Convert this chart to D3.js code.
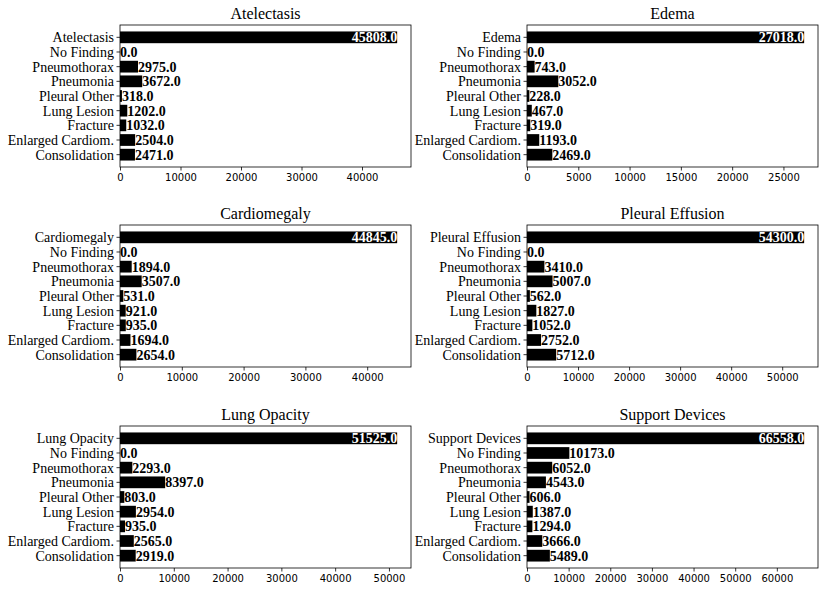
<!DOCTYPE html>
<html><head><meta charset="utf-8">
<script src="https://cdn.jsdelivr.net/npm/d3@7"></script>
<style>body{margin:0;background:#fff}</style>
</head><body>
<script>
const titles = ["Atelectasis","Edema","Cardiomegaly","Pleural Effusion","Lung Opacity","Support Devices"];
const otherCategories = ["No Finding","Pneumothorax","Pneumonia","Pleural Other","Lung Lesion","Fracture","Enlarged Cardiom.","Consolidation"];
const valuesAtelectasis = [45808,0,2975,3672,318,1202,1032,2504,2471];
const valuesEdema = [27018,0,743,3052,228,467,319,1193,2469];
const valuesCardiomegaly = [44845,0,1894,3507,531,921,935,1694,2654];
const valuesPleuralEffusion = [54300,0,3410,5007,562,1827,1052,2752,5712];
const valuesLungOpacity = [51525,0,2293,8397,803,2954,935,2565,2919];
const valuesSupportDevices = [66558,10173,6052,4543,606,1387,1294,3666,5489];
const allValues = [valuesAtelectasis,valuesEdema,valuesCardiomegaly,valuesPleuralEffusion,valuesLungOpacity,valuesSupportDevices];

const W=825,H=592;
const svg=d3.select("body").append("svg").attr("width",W).attr("height",H);
const colsX=[[120,411],[527,818]];
const rowsY=[25,225,426];
const ph=142;
const serif="Liberation Serif";
const sans="DejaVu Sans";

titles.forEach((t,i)=>{
  const col=i%2,row=Math.floor(i/2);
  const [x0,x1]=colsX[col];
  const y0=rowsY[row],y1=y0+ph;
  const vals=allValues[i];
  const cats=[t,...otherCategories];
  const max=d3.max(vals);
  const x=d3.scaleLinear().domain([0,max*1.05]).range([x0,x1]);
  const lo=-0.4,hi=8.4,m=(hi-lo)*0.05;
  const y=d3.scaleLinear().domain([lo-m,hi+m]).range([y0,y1]);
  const g=svg.append("g");
  g.selectAll("rect.bar").data(vals).join("rect")
    .attr("x",x(0)).attr("y",(d,j)=>y(j-0.4))
    .attr("width",d=>x(d)-x(0)).attr("height",(d,j)=>y(j+0.4)-y(j-0.4))
    .attr("fill","#000");
  g.selectAll("text.lab").data(vals).join("text")
    .attr("x",d=>x(d)).attr("y",(d,j)=>y(j))
    .attr("dy","0.35em")
    .attr("text-anchor",(d,j)=>j===0?"end":"start")
    .attr("fill",(d,j)=>j===0?"#fff":"#000")
    .style("font-family",serif).style("font-weight","bold").style("font-size","14px")
    .text(d=>d.toFixed(1));
  g.append("rect").attr("x",x0).attr("y",y0).attr("width",x1-x0).attr("height",ph)
    .attr("fill","none").attr("stroke","#000").attr("stroke-width",0.8);
  const xa=g.append("g").attr("transform",`translate(0,${y1})`)
    .call(d3.axisBottom(x).ticks(max>60000?7:(max>30000?5:6)).tickSize(3.5).tickPadding(3).tickFormat(d3.format("d")));
  xa.select(".domain").remove();
  xa.selectAll("text").style("font-family",sans).style("font-size","10px").attr("fill","#000");
  xa.selectAll("line").attr("stroke","#000").attr("stroke-width",0.8);
  const ya=g.append("g").attr("transform",`translate(${x0},0)`);
  cats.forEach((c,j)=>{
    ya.append("line").attr("x1",-3.5).attr("x2",0).attr("y1",y(j)).attr("y2",y(j)).attr("stroke","#000").attr("stroke-width",0.8);
    ya.append("text").attr("x",-6).attr("y",y(j)).attr("dy","0.35em").attr("text-anchor","end")
      .style("font-family",serif).style("font-size","14px").attr("fill","#000").text(c);
  });
  g.append("text").attr("x",(x0+x1)/2).attr("y",y0-6).attr("text-anchor","middle")
    .style("font-family",serif).style("font-size","16px").attr("fill","#000").text(t);
});
</script>
</body></html>
